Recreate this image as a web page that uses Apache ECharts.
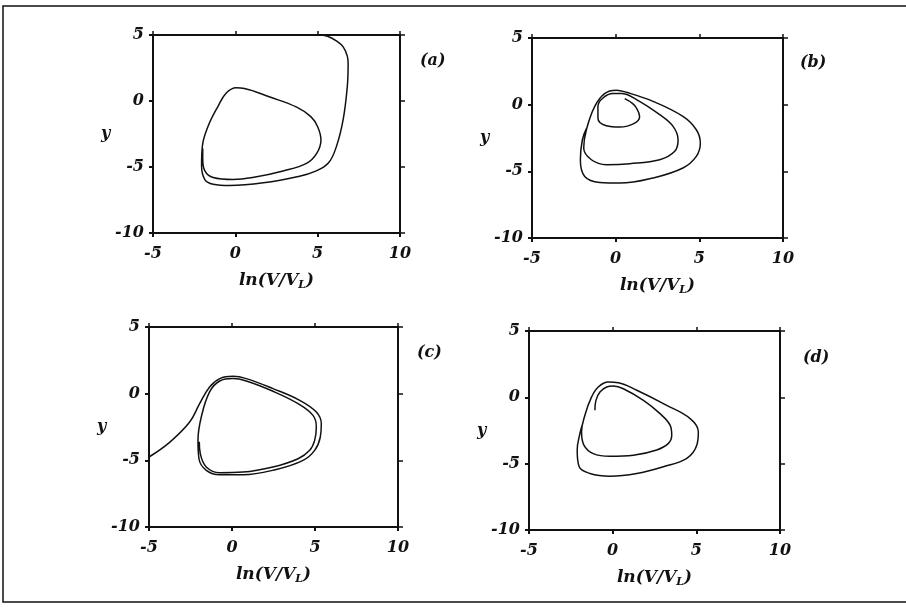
<!DOCTYPE html>
<html>
<head>
<meta charset="utf-8">
<script src="https://cdn.jsdelivr.net/npm/echarts@6/dist/echarts.min.js"></script>
<style>
  html, body { margin: 0; padding: 0; background: #fff; }
  #main { width: 906px; height: 612px; }
</style>
</head>
<body>
<div id="main"></div>
<script>
// axis ranges / ticks (same for every panel)
const xTicks = [-5, 0, 5, 10];
const yTicks = [-10, -5, 0, 5];
const panelNames = ['(a)', '(b)', '(c)', '(d)'];

// panel (a) trajectory
const aX = [5.0, 5.6, 6.2, 6.55, 6.8, 6.85, 6.8, 6.55, 6.15, 5.65, 4.8, 3.9, 1.7, -0.35, -1.35, -1.85, -2.05, -2.0, -1.65, -1.05, -0.55, 0.05, 0.55, 2.1, 3.7, 4.6, 5.0, 5.2, 4.95, 4.35, 2.9, 1.05, -0.15, -1.35, -1.85, -1.98, -1.98];
const aY = [5.0, 4.9, 4.5, 4.1, 3.4, 2.8, 1.1, -1.4, -3.4, -4.7, -5.35, -5.7, -6.2, -6.4, -6.3, -5.95, -4.9, -3.4, -1.9, -0.4, 0.6, 1.0, 0.95, 0.3, -0.45, -1.2, -1.95, -2.95, -3.95, -4.7, -5.3, -5.8, -5.95, -5.8, -5.3, -4.4, -3.6];

// panel (b) trajectory
const bX = [0.54, 1.0, 1.24, 1.43, 1.14, 0.24, -0.56, -1.06, -1.06, -0.76, -0.16, 0.34, 1.24, 2.63, 3.43, 3.73, 3.53, 2.63, 0.84, -0.56, -1.45, -1.91, -1.75, -1.25, -0.66, 0.04, 0.64, 2.23, 4.02, 4.82, 5.06, 4.82, 4.02, 2.23, 0.24, -0.96, -1.85, -2.11, -1.99, -1.75];
const bY = [0.45, 0.1, -0.25, -0.88, -1.38, -1.68, -1.58, -1.0, -0.13, 0.5, 0.83, 0.83, 0.38, -0.75, -1.63, -2.63, -3.5, -4.13, -4.43, -4.5, -4.13, -3.25, -1.88, -0.13, 0.83, 1.08, 0.93, 0.25, -0.88, -1.88, -2.88, -3.88, -4.75, -5.5, -5.88, -5.83, -5.38, -4.13, -2.63, -1.8];

// panel (c) trajectory
const cX = [-5.0, -3.74, -2.55, -1.95, -1.35, -0.74, 0.06, 0.86, 2.47, 4.08, 5.08, 5.38, 5.32, 4.98, 4.28, 2.67, 0.66, -0.74, -1.55, -1.99, -2.05, -1.85, -1.35, -0.74, 0.06, 0.86, 2.47, 3.98, 4.88, 5.08, 4.98, 4.68, 3.98, 2.47, 0.66, -0.74, -1.55, -1.91, -1.97];
const cY = [-4.75, -3.63, -2.13, -0.75, 0.5, 1.13, 1.3, 1.13, 0.38, -0.5, -1.38, -2.25, -3.25, -4.25, -5.0, -5.68, -6.08, -6.08, -5.75, -4.88, -3.5, -1.75, 0.13, 0.95, 1.13, 0.95, 0.18, -0.75, -1.63, -2.5, -3.5, -4.25, -4.88, -5.5, -5.88, -5.93, -5.5, -4.5, -3.6];

// panel (d) trajectory
const dX = [-1.06, -1.0, -0.76, -0.36, 0.04, 0.64, 1.84, 2.83, 3.43, 3.53, 3.33, 2.63, 1.24, -0.16, -1.16, -1.72, -1.86, -1.66, -1.26, -0.86, -0.26, 0.34, 1.44, 3.23, 4.63, 5.12, 5.03, 4.43, 3.03, 1.44, -0.16, -1.36, -2.0, -2.12, -1.96, -1.8];
const dY = [-0.98, -0.23, 0.4, 0.78, 0.85, 0.65, -0.23, -1.23, -2.1, -2.86, -3.47, -3.97, -4.36, -4.44, -4.24, -3.6, -2.6, -1.35, 0.03, 0.78, 1.15, 1.1, 0.53, -0.6, -1.6, -2.6, -3.6, -4.6, -5.23, -5.74, -5.94, -5.74, -5.23, -3.98, -2.73, -2.0];

const curvesX = [aX, bX, cX, dX];
const curvesY = [aY, bY, cY, dY];

function zip(xs, ys) {
  return xs.map((x, i) => [x, ys[i]]);
}

const font = 'DejaVu Serif';
const ink = '#111';

// grid boxes
const grids = [
  { left: 153, top: 35, width: 247, height: 198 },
  { left: 532, top: 38, width: 251, height: 200 },
  { left: 149, top: 327, width: 249, height: 200 },
  { left: 529, top: 331, width: 251, height: 199 }
];
const namePos = [[420, 53], [800, 55], [417, 345], [803, 350]];

const xAxes = [];
const yAxes = [];
const series = [];

grids.forEach((g, i) => {
  const lineStyle = { color: ink, width: 2 };
  // bottom axis with labels
  xAxes.push({
    type: 'value', gridIndex: i, position: 'bottom',
    min: xTicks[0], max: xTicks[xTicks.length - 1], interval: 5,
    axisLine: { show: true, onZero: false, lineStyle: lineStyle },
    axisTick: { show: true, length: 4, lineStyle: lineStyle },
    splitLine: { show: false },
    axisLabel: { color: ink, fontFamily: font, fontStyle: 'italic', fontWeight: 'bold', fontSize: 16, margin: 13 },
    name: '{t|ln(V/V}{s|L}{t|)}',
    nameLocation: 'middle', nameGap: 37,
    nameTextStyle: {
      rich: {
        t: { color: ink, fontFamily: font, fontStyle: 'italic', fontWeight: 'bold', fontSize: 17 },
        s: { color: ink, fontFamily: font, fontStyle: 'italic', fontWeight: 'bold', fontSize: 11, padding: [10, 0, 0, 0] }
      }
    }
  });
  // top frame line
  xAxes.push({
    type: 'value', gridIndex: i, position: 'top',
    min: xTicks[0], max: xTicks[xTicks.length - 1], interval: 5,
    axisLine: { show: true, onZero: false, lineStyle: lineStyle },
    axisTick: { show: true, length: 4, lineStyle: { color: ink, width: 1.5 } },
    axisLabel: { show: false },
    splitLine: { show: false }
  });
  // left axis with labels
  yAxes.push({
    type: 'value', gridIndex: i, position: 'left',
    min: yTicks[0], max: yTicks[yTicks.length - 1], interval: 5,
    axisLine: { show: true, onZero: false, lineStyle: lineStyle },
    axisTick: { show: true, length: 4, lineStyle: lineStyle },
    splitLine: { show: false },
    axisLabel: { color: ink, fontFamily: font, fontStyle: 'italic', fontWeight: 'bold', fontSize: 16, margin: 9 },
    name: 'y', nameLocation: 'middle', nameGap: 40, nameRotate: 0,
    nameTextStyle: { color: ink, fontFamily: font, fontStyle: 'italic', fontWeight: 'bold', fontSize: 16 }
  });
  // right frame line
  yAxes.push({
    type: 'value', gridIndex: i, position: 'right',
    min: yTicks[0], max: yTicks[yTicks.length - 1], interval: 5,
    axisLine: { show: true, onZero: false, lineStyle: lineStyle },
    axisTick: { show: true, length: 5, lineStyle: { color: ink, width: 1.5 } },
    axisLabel: { show: false },
    splitLine: { show: false }
  });

  series.push({
    type: 'line',
    xAxisIndex: i * 2,
    yAxisIndex: i * 2,
    data: zip(curvesX[i], curvesY[i]),
    smooth: 0.4,
    showSymbol: false,
    symbol: 'none',
    clip: true,
    lineStyle: { color: ink, width: 1.5 },
    animation: false
  });
});

const chart = echarts.init(document.getElementById('main'), null, { renderer: 'canvas' });

chart.setOption({
  backgroundColor: '#fff',
  animation: false,
  grid: grids,
  xAxis: xAxes,
  yAxis: yAxes,
  series: series,
  graphic: [
    // outer frame of the figure
    {
      type: 'rect',
      shape: { x: 3, y: 6, width: 920, height: 596 },
      style: { fill: 'none', stroke: ink, lineWidth: 1.5 }
    }
  ].concat(panelNames.map((t, i) => ({
    type: 'text',
    left: namePos[i][0],
    top: namePos[i][1],
    style: { text: t, fill: ink, font: 'italic bold 16px "DejaVu Serif"' }
  })))
});
</script>
</body>
</html>
